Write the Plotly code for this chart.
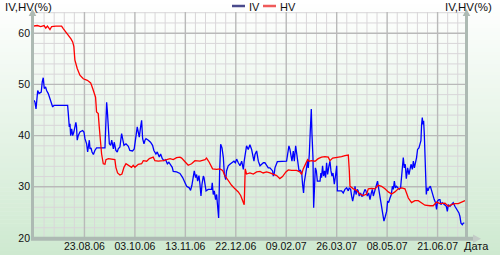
import plotly.graph_objects as go

# ---------------- data ----------------
tick_days = [30, 60, 90, 120, 150, 180, 210, 240]
tick_labels = ["23.08.06", "03.10.06", "13.11.06", "22.12.06",
               "09.02.07", "26.03.07", "08.05.07", "21.06.07"]
y_ticks = [20, 30, 40, 50, 60]

iv_day = [0, 0.6, 1.2, 1.6, 2.2, 3.0, 3.5, 4.3, 4.9, 5.5, 6.1, 6.9, 7.5, 8.5, 9.5, 10.5, 11.1, 11.9,
          20.0, 20.4, 21.0, 21.4, 21.8, 22.4, 23.0, 23.7, 24.9, 25.3, 25.7, 26.3, 27.3, 28.9, 29.7,
          30.3, 31.3, 31.9, 32.5, 32.9, 33.3, 33.9, 34.5, 35.3, 36.2, 37.2, 42.2, 42.8, 43.2, 43.6,
          44.2, 44.8, 45.6, 46.2, 47.2, 47.7, 48.7, 49.5, 50.1, 51.1, 52.1, 52.7, 53.5, 54.7, 56.1,
          57.0, 58.6, 59.6, 60.6, 61.4, 62.0, 62.6, 63.4, 64.0, 64.6, 65.4, 66.0, 66.6, 68.0, 69.3,
          70.5, 71.3, 72.5, 73.3, 74.5, 75.3, 76.3, 77.3, 78.3, 79.3, 80.2, 81.2, 82.2, 82.8, 84.8,
          86.8, 88.4, 89.8, 90.8, 92.3, 93.1, 93.9, 94.7, 95.3, 96.1, 96.7, 97.3, 98.1, 98.7, 99.3,
          99.9, 100.7, 101.1, 101.7, 102.3, 103.6, 105.6, 106.0, 106.6, 107.2, 108.0, 108.6, 109.2,
          109.8, 110.4, 111.0, 111.8, 112.6, 113.2, 114.0, 114.5, 115.5, 116.5, 118.1, 118.9, 119.7,
          120.5, 121.5, 122.5, 123.5, 124.5, 125.0, 125.6, 126.4, 127.4, 128.4, 129.4, 130.0, 130.8,
          131.4, 132.4, 133.4, 134.4, 135.4, 136.4, 137.3, 138.3, 139.3, 140.3, 141.3, 141.9, 142.3,
          142.9, 143.3, 143.9, 144.7, 150.2, 150.8, 151.6, 152.2, 152.8, 153.4, 154.2, 154.8, 155.6,
          156.2, 156.8, 157.6, 158.4, 159.2, 159.7, 160.3, 160.7, 161.5, 162.1, 162.7, 163.1, 163.7,
          164.3, 164.9, 165.3, 165.9, 166.3, 166.7, 167.3, 167.9, 168.5, 169.1, 170.1, 170.6, 171.0,
          171.6, 172.2, 172.8, 173.4, 174.0, 174.6, 175.4, 176.0, 176.6, 177.2, 177.8, 178.6, 179.4,
          180.0, 180.4, 181.9, 182.9, 183.9, 184.9, 185.9, 186.9, 187.5, 188.3, 188.9, 189.5, 190.3,
          190.9, 191.5, 192.3, 192.8, 193.4, 194.2, 194.8, 195.4, 196.2, 196.8, 197.4, 198.2, 199.0,
          199.8, 200.6, 201.2, 201.8, 202.8, 203.8, 204.3, 204.9, 205.5, 206.1, 206.7, 207.3, 208.1,
          208.9, 209.7, 210.3, 210.9, 211.7, 212.5, 213.1, 213.7, 214.3, 214.9, 215.6, 216.4, 217.2,
          218.0, 218.6, 219.2, 219.6, 220.2, 220.8, 221.4, 222.2, 223.0, 223.6, 224.2, 225.0, 225.6,
          226.2, 227.0, 227.5, 228.1, 228.9, 229.5, 230.1, 230.5, 230.9, 231.3, 231.7, 232.1, 232.5,
          232.9, 233.3, 233.7, 234.3, 234.9, 235.7, 236.5, 237.3, 238.0, 238.8, 239.4, 240.0, 240.8,
          241.4, 242.0, 242.8, 243.6, 244.4, 245.2, 245.8, 246.4, 247.4, 248.4, 249.3, 250.3, 251.3,
          251.9, 252.7, 253.3, 253.9, 254.7, 255.3, 255.9]
iv = [46.9, 46.5, 45.2, 47.2, 48.8, 48.2, 48.4, 48.5, 50.5, 51.3, 49.2, 49.5, 48.8, 48.2, 47.2, 46.2, 45.6, 45.9,
      45.9, 44.3, 41.7, 42.3, 40.0, 41.3, 40.0, 40.7, 42.6, 41.7, 39.1, 40.0, 40.7, 41.0, 40.7,
      39.4, 38.4, 36.8, 38.1, 39.1, 37.4, 37.6, 36.8, 36.3, 37.1, 37.6, 37.6, 41.7, 46.5, 44.9,
      40.7, 38.4, 38.1, 39.1, 37.4, 38.7, 37.1, 36.8, 37.4, 37.8, 40.4, 39.1, 38.1, 38.4, 37.9,
      37.1, 37.0, 37.4, 40.4, 41.7, 40.7, 39.7, 41.7, 43.0, 39.4, 38.4, 39.1, 39.4, 39.1, 38.7,
      38.1, 37.1, 36.4, 36.8, 35.8, 36.4, 35.5, 35.1, 35.3, 34.5, 34.8, 34.2, 33.8, 33.0, 32.9,
      32.6, 31.8, 30.8, 30.1, 29.8, 29.3, 30.3, 32.4, 33.1, 31.8, 32.4, 31.1, 32.2, 30.5, 28.2,
      30.5, 32.1, 31.8, 30.5, 29.2, 29.5, 29.5, 30.8, 28.5, 29.2, 27.5, 28.5, 25.9,
      23.9, 33.1, 38.3, 37.6, 35.7, 32.4, 31.4, 33.1, 34.1, 34.4, 34.7, 35.0, 34.7,
      35.4, 34.7, 34.1, 35.0, 33.4, 35.0, 36.3, 38.0, 37.3, 38.2, 37.3, 36.3, 35.0,
      36.3, 37.0, 35.0, 34.1, 34.4, 34.7, 34.7, 34.1, 33.7, 33.7, 33.4, 33.1, 32.1,
      32.7, 33.7, 34.4, 34.9, 35.0, 36.0, 38.0, 37.3, 36.3, 35.0, 37.0, 35.0, 38.0,
      36.7, 34.7, 33.1, 33.2, 32.7, 30.5, 28.8, 30.8, 32.4, 34.4, 35.0, 33.7, 36.3,
      40.9, 45.2, 40.3, 35.7, 25.9, 29.2, 33.7, 33.1, 31.1, 31.1, 31.1, 32.7, 31.8,
      34.1, 32.1, 33.1, 31.8, 34.7, 32.4, 34.1, 35.0, 33.1, 32.1, 32.7, 30.5, 32.4,
      34.1, 29.2, 29.2, 29.2, 28.8, 29.5, 29.8, 29.2, 29.8, 29.5, 28.2, 27.2, 28.5,
      30.1, 28.5, 29.5, 29.2, 28.2, 28.8, 28.2, 28.2, 29.2, 29.5, 29.2, 28.2, 28.8,
      27.5, 28.8, 29.5, 28.2, 29.2, 30.5, 31.1, 29.8, 28.5, 27.2, 26.2, 25.2, 23.3,
      24.2, 25.2, 27.2, 26.9, 27.8, 28.5, 30.1, 29.5, 31.1, 29.8, 30.1, 29.8, 29.5,
      29.8, 31.8, 34.7, 35.7, 33.7, 34.4, 31.6, 33.7, 32.4, 33.4, 34.4, 33.4, 35.0,
      33.7, 34.7, 35.7, 37.3, 37.6, 38.3, 39.0, 42.2, 43.5, 42.2, 42.9, 40.3, 37.0,
      31.1, 28.5, 29.8, 29.2, 29.8, 30.1, 29.2, 28.2, 27.5, 26.9, 25.6, 27.2, 27.5,
      27.5, 26.5, 26.9, 26.7, 26.5, 26.2, 25.2, 26.5, 26.2, 26.5, 26.9, 26.2, 25.6,
      25.2, 24.9, 24.2, 22.9, 22.6, 22.9, 22.9]

hv_day = [0, 2, 4, 6, 7, 8, 9.5, 10.5, 13, 16.4, 17.4, 19.4, 20.8, 22.0, 23.0, 23.7, 24.3, 25.7,
          27.3, 29.3, 31.7, 32.9, 33.7, 34.9, 35.9, 36.6, 37.2, 38.2, 38.8, 39.6, 40.2, 41.2, 42.2,
          42.8, 44.2, 48.1, 48.7, 49.7, 51.1, 52.3, 53.5, 54.7, 56.1, 58.0, 59.0, 60.0, 62.0, 64.0,
          65.0, 67.0, 68.6, 70.9, 71.9, 73.9, 76.9, 78.9, 80.9, 82.8, 84.8, 86.8, 87.8, 89.8, 91.7,
          93.7, 95.7, 98.7, 101.7, 102.6, 104.2, 106.2, 108.6, 110.6, 112.2, 113.5, 115.5, 117.5,
          119.5, 121.5, 122.9, 124.1, 125.0, 125.6, 126.4, 128.4, 130.4, 132.4, 134.4, 136.3, 138.3,
          140.3, 142.3, 144.3, 146.2, 147.8, 149.8, 151.2, 153.2, 156.2, 158.1, 159.1, 160.1, 161.7,
          162.7, 163.7, 165.1, 167.1, 169.0, 171.0, 173.0, 175.0, 176.0, 177.6, 180.0, 182.9, 184.9,
          186.9, 187.5, 187.9, 189.9, 191.8, 193.8, 195.8, 197.8, 198.8, 200.8, 202.7, 204.7, 206.7,
          208.7, 210.7, 212.7, 214.6, 216.6, 218.6, 220.6, 222.6, 224.5, 226.5, 228.5, 230.5, 232.5,
          235.5, 237.4, 239.4, 241.4, 244.4, 246.4, 248.3, 250.3, 252.3, 254.3, 256.3]
hv = [61.4, 61.5, 61.3, 61.5, 61.0, 61.4, 60.7, 61.3, 61.4, 61.4, 60.9, 60.1, 59.6, 58.9, 58.3, 57.4, 54.8, 53.1,
      51.8, 51.1, 50.8, 50.6, 50.3, 49.2, 48.2, 47.5, 44.6, 44.3, 41.7, 38.4, 36.4, 34.5, 34.4,
      35.3, 35.5, 35.3, 33.8, 32.7, 32.3, 32.5, 33.8, 34.5, 34.2, 33.8, 34.2, 33.8, 34.4, 34.5,
      35.1, 35.0, 35.5, 35.8, 35.1, 35.0, 35.1, 35.3, 35.5, 35.3, 35.7, 35.8, 35.6, 34.9, 34.2,
      34.5, 35.1, 35.0, 35.3, 35.6, 34.8, 33.5, 33.4, 33.5, 33.2, 32.2, 31.2, 30.3,
      29.6, 29.0, 28.3, 27.3, 26.5, 33.5, 32.5, 32.7, 32.5, 32.9, 33.0, 32.7, 32.9,
      32.7, 32.5, 32.2, 31.6, 32.0, 32.9, 33.3, 33.2, 33.2, 32.9, 32.4, 33.5, 34.5,
      35.3, 35.0, 35.1, 35.0, 35.5, 35.8, 35.9, 35.8, 35.1, 35.6, 35.7, 35.9, 36.1,
      36.2, 33.2, 30.1, 29.6, 29.3, 28.6, 28.3, 28.6, 29.6, 29.7, 29.6, 30.3, 30.1,
      29.6, 29.0, 28.6, 29.0, 29.6, 29.8, 29.6, 27.8, 26.9, 27.3, 27.3, 26.8, 26.4,
      26.3, 26.3, 27.0, 26.7, 26.8, 26.2, 26.5, 26.7, 26.7, 27.0, 27.3]

# ---------------- layout geometry ----------------
W, H = 500, 255
ML, MR, MT, MB = 34, 34, 12, 17
PW, PH = W - ML - MR, H - MT - MB
X_RANGE = [0, 256.9]
Y_RANGE = [20, 64.14]


def px(x):
    return (x - ML) / PW


def py(y):
    return (H - MB - y) / PH


def dx(v):  # data x -> paper
    return (v - X_RANGE[0]) / (X_RANGE[1] - X_RANGE[0])


def dy(v):  # data y -> paper
    return (v - Y_RANGE[0]) / (Y_RANGE[1] - Y_RANGE[0])


shapes = []
# background gradient (white at top -> light green at bottom)
top_c = (255, 255, 255)
bot_c = (206, 233, 208)
n = 64
for k in range(n):
    y0 = H * k / n
    y1 = H * (k + 1) / n + 0.6
    t = (k + 0.5) / n
    c = tuple(int(round(top_c[j] + (bot_c[j] - top_c[j]) * t)) for j in range(3))
    shapes.append(dict(type="rect", xref="paper", yref="paper", layer="below",
                       x0=px(0), x1=px(W), y0=py(y1), y1=py(y0),
                       line=dict(width=0), fillcolor="rgb(%d,%d,%d)" % c))

# grid: minor then major
minor_c, major_c = "#d9d6d9", "#b9b9b9"
d = 6
while d < X_RANGE[1]:
    if d not in tick_days:
        shapes.append(dict(type="line", xref="paper", yref="paper", layer="below",
                           x0=dx(d), x1=dx(d), y0=0, y1=1, line=dict(color=minor_c, width=1)))
    d += 6
v = 22
while v <= Y_RANGE[1]:
    if v not in y_ticks:
        shapes.append(dict(type="line", xref="paper", yref="paper", layer="below",
                           x0=0, x1=1, y0=dy(v), y1=dy(v), line=dict(color=minor_c, width=1)))
    v += 2
for d in tick_days:
    shapes.append(dict(type="line", xref="paper", yref="paper", layer="below",
                       x0=dx(d), x1=dx(d), y0=0, y1=1, line=dict(color=major_c, width=1.4)))
for v in y_ticks[1:]:
    shapes.append(dict(type="line", xref="paper", yref="paper", layer="below",
                       x0=0, x1=1, y0=dy(v), y1=dy(v), line=dict(color=major_c, width=1.4)))

axis_c = "#adbab3"
# left & right vertical axes
for ax_x in (32.5, 466.5):
    shapes.append(dict(type="line", xref="paper", yref="paper", layer="above",
                       x0=px(ax_x), x1=px(ax_x), y0=py(240), y1=py(14),
                       line=dict(color=axis_c, width=3)))
    shapes.append(dict(type="path", xref="paper", yref="paper", layer="above",
                       path="M %f,%f L %f,%f L %f,%f Z" % (px(ax_x), py(9), px(ax_x - 3.8), py(16),
                                                          px(ax_x + 3.8), py(16)),
                       line=dict(width=0), fillcolor=axis_c))
# bottom axis
shapes.append(dict(type="line", xref="paper", yref="paper", layer="above",
                   x0=px(31), x1=px(474), y0=py(238.8), y1=py(238.8),
                   line=dict(color=axis_c, width=4)))
shapes.append(dict(type="path", xref="paper", yref="paper", layer="above",
                   path="M %f,%f L %f,%f L %f,%f Z" % (px(481), py(238.8), px(473), py(234.5),
                                                      px(473), py(243)),
                   line=dict(width=0), fillcolor="#c3ccc7"))
# legend marks
shapes.append(dict(type="line", xref="paper", yref="paper", layer="above",
                   x0=px(232), x1=px(245), y0=py(6), y1=py(6),
                   line=dict(color="#4a4a8c", width=2.5)))
shapes.append(dict(type="line", xref="paper", yref="paper", layer="above",
                   x0=px(263), x1=px(276), y0=py(6), y1=py(6),
                   line=dict(color="#ef5a5a", width=2.5)))

font_f = "Liberation Sans, Arial, sans-serif"
txt = dict(family=font_f, size=11, color="#111111")
ttl = dict(family=font_f, size=11.5, color="#111111")
annotations = [
    dict(text="IV,HV(%)", xref="paper", yref="paper", x=px(3), y=py(6.5),
         xanchor="left", yanchor="middle", showarrow=False, font=ttl),
    dict(text="IV,HV(%)", xref="paper", yref="paper", x=px(494), y=py(6.5),
         xanchor="right", yanchor="middle", showarrow=False, font=ttl),
    dict(text="IV", xref="paper", yref="paper", x=px(247), y=py(6.5),
         xanchor="left", yanchor="middle", showarrow=False, font=txt),
    dict(text="HV", xref="paper", yref="paper", x=px(278), y=py(6.5),
         xanchor="left", yanchor="middle", showarrow=False, font=txt),
    dict(text="Дата", xref="paper", yref="paper", x=px(476), y=py(245.5),
         xanchor="center", yanchor="middle", showarrow=False, font=txt),
]

fig = go.Figure()
fig.add_trace(go.Scatter(x=iv_day, y=iv, mode="lines", name="IV",
                         line=dict(color="#0000ff", width=1.3)))
fig.add_trace(go.Scatter(x=hv_day, y=hv, mode="lines", name="HV",
                         line=dict(color="#ff0000", width=1.3)))

fig.update_layout(
    width=W, height=H,
    margin=dict(l=ML, r=MR, t=MT, b=MB, pad=0),
    paper_bgcolor="rgba(0,0,0,0)",
    plot_bgcolor="rgba(0,0,0,0)",
    showlegend=False,
    shapes=shapes,
    annotations=annotations,
    font=dict(family=font_f, size=10.5, color="#111111"),
    xaxis=dict(range=X_RANGE, tickmode="array", tickvals=tick_days, ticktext=tick_labels,
               showgrid=False, zeroline=False, automargin=False,
               showline=False, ticks="", tickfont=dict(size=10.5, color="#111111")),
    yaxis=dict(range=Y_RANGE, tickmode="array", tickvals=y_ticks,
               showgrid=False, zeroline=False, automargin=False, ticklabelstandoff=3,
               showline=False, ticks="", tickfont=dict(size=10.5, color="#111111")),
)

fig.write_html("out.html")
